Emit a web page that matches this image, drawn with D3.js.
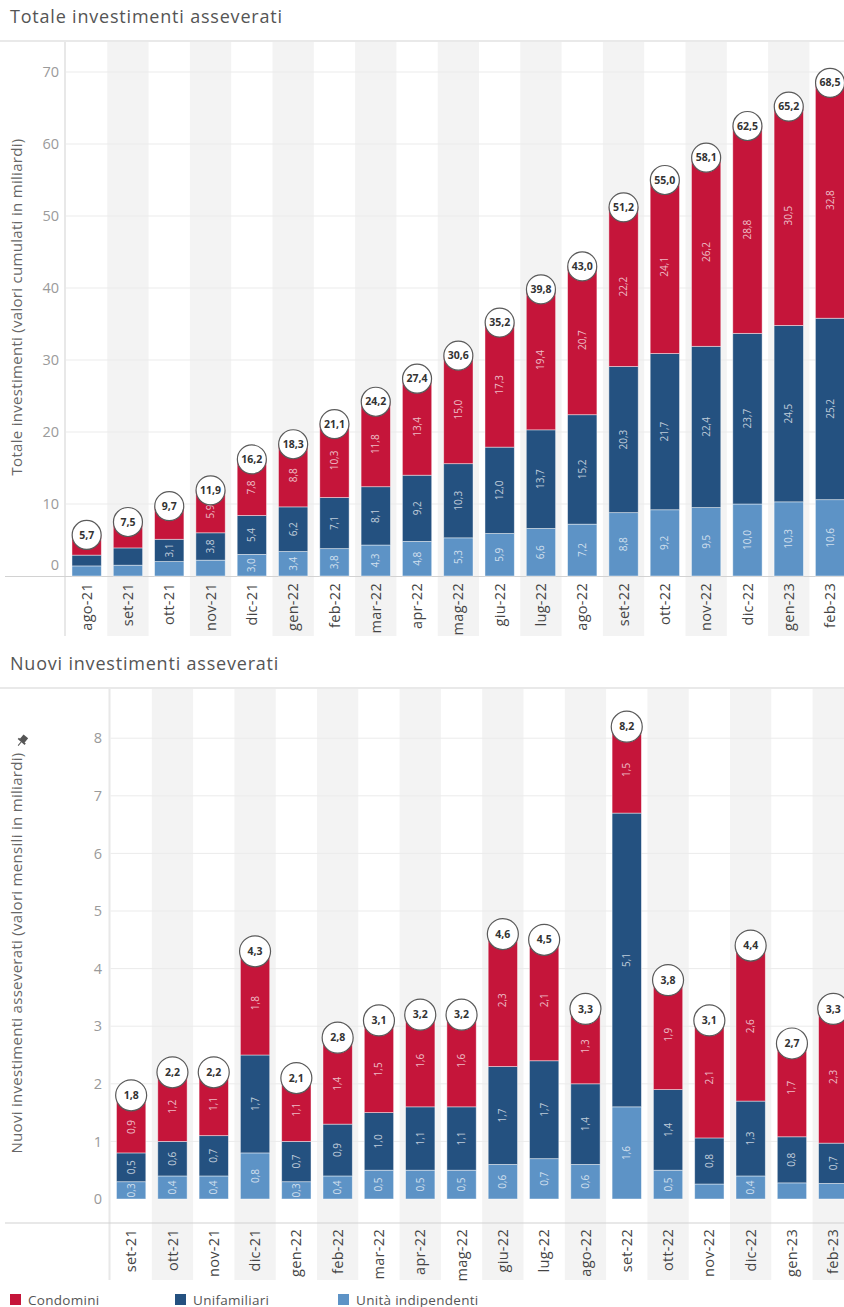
<!DOCTYPE html>
<html>
<head>
<meta charset="utf-8">
<script src="https://cdn.jsdelivr.net/npm/d3@7"></script>
<style>
  body { margin: 0; background: #fff; }
  svg { display: block; font-family: "Open Sans", "DejaVu Sans", sans-serif; }
</style>
</head>
<body>
<div id="chart"></div>
<script>
// Totale investimenti asseverati (valori cumulati, miliardi)
var topMonths = ["ago-21","set-21","ott-21","nov-21","dic-21","gen-22","feb-22","mar-22","apr-22","mag-22",
  "giu-22","lug-22","ago-22","set-22","ott-22","nov-22","dic-22","gen-23","feb-23"];
var topUnita = [1.4,1.5,2.0,2.2,3.0,3.4,3.8,4.3,4.8,5.3,5.9,6.6,7.2,8.8,9.2,9.5,10.0,10.3,10.6];
var topUnifam = [1.5,2.4,3.1,3.8,5.4,6.2,7.1,8.1,9.2,10.3,12.0,13.7,15.2,20.3,21.7,22.4,23.7,24.5,25.2];
var topCondomini = [2.8,3.6,4.6,5.9,7.8,8.8,10.3,11.8,13.4,15.0,17.3,19.4,20.7,22.2,24.1,26.2,28.8,30.5,32.8];
var topTotals = [5.7,7.5,9.7,11.9,16.2,18.3,21.1,24.2,27.4,30.6,35.2,39.8,43.0,51.2,55.0,58.1,62.5,65.2,68.5];
var topTicks = [0,10,20,30,40,50,60,70];

// Nuovi investimenti asseverati (valori mensili, miliardi)
var botMonths = ["set-21","ott-21","nov-21","dic-21","gen-22","feb-22","mar-22","apr-22","mag-22",
  "giu-22","lug-22","ago-22","set-22","ott-22","nov-22","dic-22","gen-23","feb-23"];
var botUnita = [0.3,0.4,0.4,0.8,0.3,0.4,0.5,0.5,0.5,0.6,0.7,0.6,1.6,0.5,0.26,0.4,0.28,0.27];
var botUnifam = [0.5,0.6,0.7,1.7,0.7,0.9,1.0,1.1,1.1,1.7,1.7,1.4,5.1,1.4,0.8,1.3,0.8,0.7];
var botCondomini = [0.9,1.2,1.1,1.8,1.1,1.4,1.5,1.6,1.6,2.3,2.1,1.3,1.5,1.9,2.1,2.6,1.7,2.3];
var botTotals = [1.8,2.2,2.2,4.3,2.1,2.8,3.1,3.2,3.2,4.6,4.5,3.3,8.2,3.8,3.1,4.4,2.7,3.3];
var botTicks = [0,1,2,3,4,5,6,7,8];

var seriesKeys = ["unita","unifam","condomini"];
var seriesNames = ["Condomini","Unifamiliari","Unità indipendenti"];
var colors = {condomini: "#c5153a", unifam: "#245180", unita: "#5d93c6"};

var W = 844, H = 1307;
var svg = d3.select("#chart").append("svg").attr("width", W).attr("height", H);

var fmt = function(v){ return d3.format(".1f")(v).replace(".", ","); };

function drawChart(cfg) {
  var g = svg.append("g");
  var n = cfg.months.length;

  var rows = cfg.months.map(function(m, i){
    return {month: m, unita: cfg.unita[i], unifam: cfg.unifam[i], condomini: cfg.condomini[i], total: cfg.totals[i], idx: i};
  });

  // column scale (full width) and bar scale (same centres)
  var xCol = d3.scaleBand().domain(cfg.months).range([cfg.left, cfg.left + cfg.step * n]);
  var xBar = xCol.copy().paddingInner(0.29).paddingOuter(0.145);
  var y = d3.scaleLinear().domain([0, cfg.yMax]).range([cfg.y0, cfg.yTop]);

  // title + separator
  g.append("text")
    .attr("x", 10).attr("y", cfg.titleY)
    .attr("fill", "#555").attr("font-size", 18).attr("letter-spacing", 0.8)
    .text(cfg.title);
  g.append("line")
    .attr("x1", 0).attr("x2", W).attr("y1", cfg.sepY).attr("y2", cfg.sepY)
    .attr("stroke", "#e2e2e2").attr("stroke-width", 1.5);

  // alternating column shading
  g.selectAll("rect.col")
    .data(rows.filter(function(d){ return d.idx % 2 == 1; }))
    .enter().append("rect")
    .attr("class", "col")
    .attr("x", function(d){ return xCol(d.month); })
    .attr("width", xCol.bandwidth())
    .attr("y", cfg.sepY + 1)
    .attr("height", cfg.bandBottom - cfg.sepY - 1)
    .attr("fill", "#f3f3f3");

  // gridlines
  g.selectAll("line.grid")
    .data(cfg.ticks.filter(function(t){ return t > 0; }))
    .enter().append("line")
    .attr("class", "grid")
    .attr("x1", cfg.left).attr("x2", W)
    .attr("y1", function(d){ return y(d); }).attr("y2", function(d){ return y(d); })
    .attr("stroke", "#ebebeb").attr("stroke-width", 1);

  // left frame + x axis line
  g.append("line")
    .attr("x1", cfg.left - 1).attr("x2", cfg.left - 1)
    .attr("y1", cfg.sepY + 1).attr("y2", cfg.bandBottom)
    .attr("stroke", "#e8e8e8").attr("stroke-width", 2);
  g.append("line")
    .attr("x1", 5).attr("x2", W).attr("y1", cfg.axisY).attr("y2", cfg.axisY)
    .attr("stroke", "#d2d2d2").attr("stroke-width", 1.2);

  // y axis
  var yAxis = g.append("g")
    .attr("transform", "translate(" + cfg.tickX + ",0)")
    .call(d3.axisLeft(y).tickValues(cfg.ticks).tickSize(0).tickPadding(0).tickFormat(function(d){ return d; }));
  yAxis.select(".domain").remove();
  yAxis.selectAll("text")
    .attr("fill", "#9a9a9a").attr("font-size", 14.5)
    .style("font-family", "Open Sans, sans-serif")
    .attr("dy", function(d){ return d == 0 ? (cfg.zeroShift + 0.32) + "em" : "0.32em"; });

  g.append("text")
    .attr("transform", "translate(" + 22 + "," + cfg.yLabelY + ") rotate(-90)")
    .attr("text-anchor", "middle")
    .attr("fill", "#666").attr("font-size", 15).attr("letter-spacing", 0.3)
    .text(cfg.yLabel);

  // x axis labels
  var xAxis = g.append("g")
    .attr("transform", "translate(0," + cfg.xLabelY + ")")
    .call(d3.axisBottom(xCol).tickSize(0).tickPadding(0));
  xAxis.select(".domain").remove();
  xAxis.selectAll("text")
    .attr("transform", "rotate(-90)")
    .attr("text-anchor", "end")
    .attr("x", 0).attr("y", 0).attr("dy", "0.35em")
    .attr("fill", "#444").attr("font-size", 14.5).attr("letter-spacing", 0.3)
    .style("font-family", "Open Sans, sans-serif");

  // stacked bars
  var stacked = d3.stack().keys(seriesKeys)(rows);
  var layer = g.selectAll("g.layer")
    .data(stacked)
    .enter().append("g")
    .attr("class", "layer")
    .attr("fill", function(s){ return colors[s.key]; });

  layer.selectAll("rect")
    .data(function(s){ return s; })
    .enter().append("rect")
    .attr("x", function(d){ return xBar(d.data.month); })
    .attr("width", xBar.bandwidth())
    .attr("y", function(d){ return y(d[1]); })
    .attr("height", function(d){ return y(d[0]) - y(d[1]); })
    .attr("stroke", "#ffffff").attr("stroke-opacity", 0.55).attr("stroke-width", 0.8);

  // segment labels, hidden when there is no room
  stacked.forEach(function(s){
    var isTop = s.key == "condomini";
    g.selectAll(null)
      .data(s.filter(function(d){
        var h = y(d[0]) - y(d[1]);
        if (isTop) h -= cfg.r;
        return h >= cfg.minLabel;
      }))
      .enter().append("text")
      .attr("transform", function(d){
        var cx = xBar(d.data.month) + xBar.bandwidth() / 2;
        var cy = (y(d[0]) + y(d[1])) / 2;
        return "translate(" + cx + "," + cy + ") rotate(-90)";
      })
      .attr("text-anchor", "middle")
      .attr("dy", "0.35em")
      .attr("fill", "#ffffff").attr("fill-opacity", 0.72)
      .attr("font-size", 10)
      .text(function(d){ return fmt(d.data[s.key]); });
  });

  // total bubbles
  var bub = g.selectAll("g.bubble")
    .data(rows)
    .enter().append("g")
    .attr("class", "bubble")
    .attr("transform", function(d){
      return "translate(" + (xBar(d.month) + xBar.bandwidth() / 2) + "," + y(d.total) + ")";
    });
  bub.append("circle")
    .attr("r", cfg.r)
    .attr("fill", "#fff")
    .attr("stroke", "#5a5a5a").attr("stroke-width", 1.2);
  bub.append("text")
    .attr("text-anchor", "middle").attr("dy", "0.35em")
    .attr("fill", "#333").attr("font-size", 10.5).attr("font-weight", "bold")
    .text(function(d){ return fmt(d.total); });
}

drawChart({
  title: "Totale investimenti asseverati",
  yLabel: "Totale investimenti (valori cumulati in miliardi)",
  months: topMonths, unita: topUnita, unifam: topUnifam, condomini: topCondomini, totals: topTotals,
  ticks: topTicks, yMax: 70,
  titleY: 23, sepY: 41, left: 66, step: 41.3,
  y0: 576, yTop: 72, axisY: 576.5, bandBottom: 636, xLabelY: 583,
  tickX: 59, zeroShift: -0.75, yLabelY: 307,
  r: 14.5, minLabel: 21
});

drawChart({
  title: "Nuovi investimenti asseverati",
  yLabel: "Nuovi investimenti asseverati (valori mensili in miliardi)",
  months: botMonths, unita: botUnita, unifam: botUnifam, condomini: botCondomini, totals: botTotals,
  ticks: botTicks, yMax: 8,
  titleY: 670, sepY: 688, left: 110.5, step: 41.3,
  y0: 1199, yTop: 738.2, axisY: 1223, bandBottom: 1280, xLabelY: 1229,
  tickX: 102, zeroShift: 0, yLabelY: 953,
  r: 15.5, minLabel: 16.5
});

// pin glyph above the lower y label
var pin = svg.append("g").attr("transform", "translate(22,741) rotate(40)");
pin.append("rect").attr("x", -3).attr("y", -6).attr("width", 6).attr("height", 6).attr("fill", "#555");
pin.append("rect").attr("x", -4.5).attr("y", -0.5).attr("width", 9).attr("height", 1.8).attr("fill", "#555");
pin.append("line").attr("x1", 0).attr("x2", 0).attr("y1", 1).attr("y2", 6).attr("stroke", "#555").attr("stroke-width", 1);

// legend
var legendX = [10, 175, 338];
var legendKeys = ["condomini", "unifam", "unita"];
var legend = svg.selectAll("g.legend")
  .data(legendKeys)
  .enter().append("g")
  .attr("class", "legend")
  .attr("transform", function(d, i){ return "translate(" + legendX[i] + ",1294)"; });
legend.append("rect")
  .attr("width", 11).attr("height", 11)
  .attr("fill", function(d){ return colors[d]; });
legend.append("text")
  .attr("x", 18).attr("y", 10.5)
  .attr("fill", "#555").attr("font-size", 13.5).attr("letter-spacing", 0.3)
  .text(function(d, i){ return seriesNames[i]; });
</script>
</body>
</html>
